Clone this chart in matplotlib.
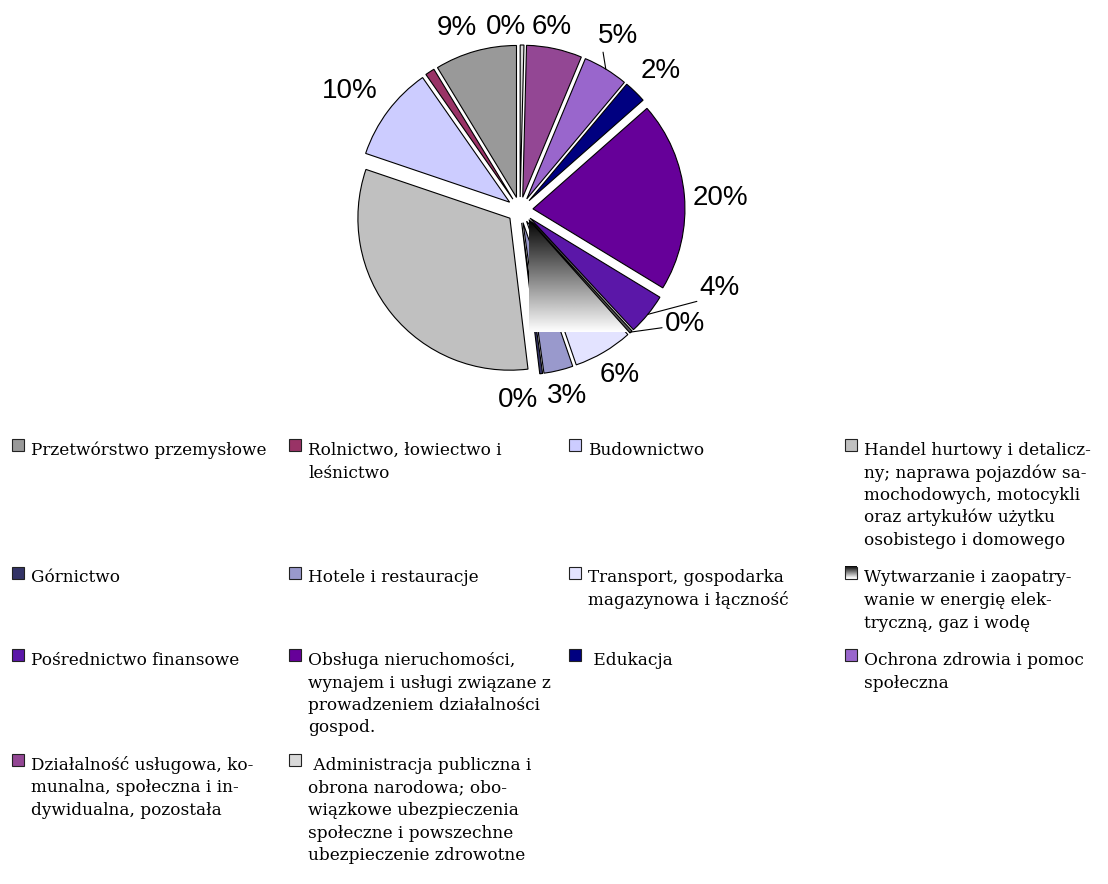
import numpy as np
import matplotlib.pyplot as plt
from matplotlib.patches import Wedge, Rectangle

sectors = ["Przetwórstwo przemysłowe",
           "Rolnictwo, łowiectwo i\nleśnictwo",
           "Budownictwo",
           "Handel hurtowy i detalicz-\nny; naprawa pojazdów sa-\nmochodowych, motocykli\noraz artykułów użytku\nosobistego i domowego",
           "Górnictwo",
           "Hotele i restauracje",
           "Transport, gospodarka\nmagazynowa i łączność",
           "Wytwarzanie i zaopatry-\nwanie w energię elek-\ntryczną, gaz i wodę",
           "Pośrednictwo finansowe",
           "Obsługa nieruchomości,\nwynajem i usługi związane z\nprowadzeniem działalności\ngospod.",
           " Edukacja",
           "Ochrona zdrowia i pomoc\nspołeczna",
           "Działalność usługowa, ko-\nmunalna, społeczna i in-\ndywidualna, pozostała",
           " Administracja publiczna i\nobrona narodowa; obo-\nwiązkowe ubezpieczenia\nspołeczne i powszechne\nubezpieczenie zdrowotne"]
shares = [8.7, 1.0, 10.1, 32.1, 0.3, 3.1, 6.3, 0.3, 4.4, 20.2, 2.4, 4.8, 5.9, 0.4]
colors = ["#999999", "#993366", "#CCCCFF", "#C0C0C0", "#333366", "#9999CC", "#E3E3FF",
          "#555555", "#5B17A8", "#660099", "#000080", "#9966CC", "#934794", "#D9D9D9"]
GRADIENT = 7  # Wytwarzanie is drawn with a black-to-white fill

# label placement: (angle nudge in degrees, distance as a fraction of radius), None = no label
label_place = [(3.4, 1.27), None, (2.0, 1.365), None, (-8.0, 1.25), (0.6, 1.26), (0.7, 1.27),
               (13.0, 1.32), (18.0, 1.41), (-1.7, 1.32), (-1.2, 1.30), (2.0, 1.31), (2.3, 1.22), (5.0, 1.21)]
leaders = {11: (0.13, 0.0), 8: (0.0, 0.0), 7: (0.0, 0.38)}

W, H = 1108, 884
cx, cy, R = 520, H - 210, 152

fig = plt.figure(figsize=(W / 100, H / 100), dpi=100)
ax = fig.add_axes([0, 0, 1, 1])
wedges, _ = ax.pie(shares, colors=colors, startangle=90, radius=R, center=(cx, cy),
                   explode=[13] * len(shares),
                   wedgeprops=dict(edgecolor="black", linewidth=0.8))
for i, w in enumerate(wedges):
    w.set_zorder(3 if i >= GRADIENT else 1)

# gradient fill of the energy slice, spread over its bounding box as in the original
g = wedges[GRADIENT]
gx, gy = g.center
gm = np.radians((g.theta1 + g.theta2) / 2)
px, py = gx + g.r * np.cos(gm), gy + g.r * np.sin(gm)
grad = np.linspace(0, 1, 256).reshape(-1, 1)
im = ax.imshow(grad, cmap="gray", extent=[gx, px, py, gy], origin="upper",
               aspect="auto", zorder=2)
clip = Wedge((gx, gy), 400, 270, wedges[GRADIENT + 1].theta2, transform=ax.transData)
im.set_clip_path(clip)

# percentage labels
for i, (w, v) in enumerate(zip(wedges, shares)):
    if label_place[i] is None:
        continue
    dth, rf = label_place[i]
    mid = (w.theta1 + w.theta2) / 2
    a = np.radians(mid + dth)
    tx, ty = cx + rf * R * np.cos(a), cy + rf * R * np.sin(a)
    txt = f"{v:.0f}%"
    if i in leaders:
        m = np.radians(mid)
        ex, ey = w.center[0] + w.r * np.cos(m), w.center[1] + w.r * np.sin(m)
        ax.annotate(txt, xy=(ex, ey), xytext=(tx, ty), ha="center", va="center",
                    fontsize=20, family="Liberation Sans",
                    arrowprops=dict(arrowstyle="-", color="black", lw=0.8,
                                    shrinkA=0, shrinkB=0, relpos=leaders[i]))
    else:
        ax.text(tx, ty, txt, ha="center", va="center", fontsize=20, family="Liberation Sans")

# legend, four columns laid out row by row
col_x = [31, 308, 588, 864]
line_h, row_gap = 22.5, 15
base = 455
for r0 in range(0, len(sectors), 4):
    row = sectors[r0:r0 + 4]
    for k, lab in enumerate(row):
        i = r0 + k
        x = col_x[k]
        sq = (x - 19, H - base + 4)
        if i == GRADIENT:
            ax.imshow(grad, cmap="gray", extent=[sq[0], sq[0] + 12, sq[1], sq[1] + 12],
                      origin="upper", aspect="auto", zorder=4)
            ax.add_patch(Rectangle(sq, 12, 12, facecolor="none", edgecolor="#222222",
                                   lw=0.8, zorder=5))
        else:
            ax.add_patch(Rectangle(sq, 12, 12, facecolor=colors[i], edgecolor="#222222",
                                   lw=0.8, zorder=5))
        for j, line in enumerate(lab.split("\n")):
            ax.text(x, H - (base + j * line_h), line, ha="left", va="baseline",
                    fontsize=12.2, family="DejaVu Serif", color="black")
    nlines = max(len(lab.split("\n")) for lab in row)
    base += nlines * line_h + row_gap

ax.set_xlim(0, W)
ax.set_ylim(0, H)
ax.axis("off")
plt.savefig("out.png", dpi=100)
